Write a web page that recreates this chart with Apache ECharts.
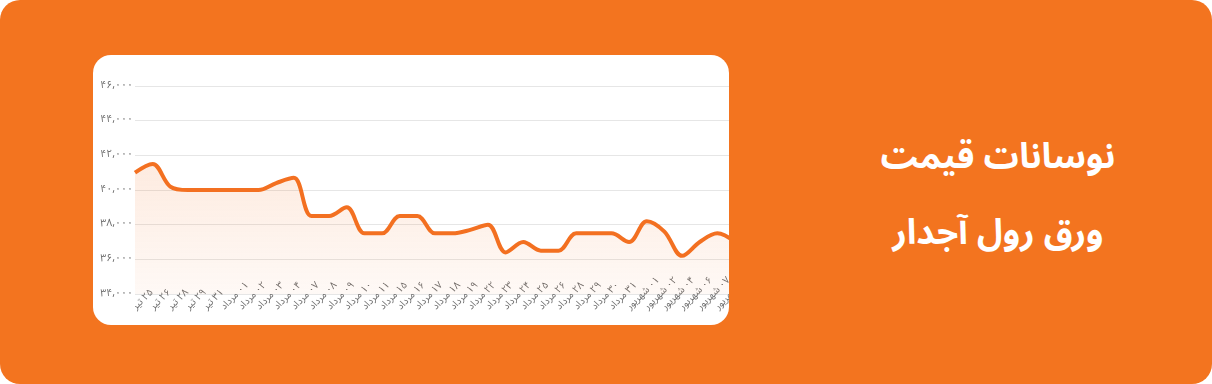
<!DOCTYPE html>
<html>
<head>
<meta charset="utf-8">
<script src="https://cdn.jsdelivr.net/npm/echarts@6/dist/echarts.min.js"></script>
<style>
  html, body { margin: 0; padding: 0; width: 1212px; height: 384px; background: #ffffff; overflow: hidden; }
  #bg { position: absolute; left: 0; top: 0; width: 1212px; height: 384px; background: #F3741F; border-radius: 20px; }
  #card { position: absolute; left: 93px; top: 55px; width: 636px; height: 270px; background: #ffffff; border-radius: 18px; overflow: hidden; }
  #chart { position: absolute; left: 0; top: 0; width: 700px; height: 270px; direction: rtl; }
  .title { position: absolute; left: 850px; width: 296px; text-align: center; direction: rtl; color: #ffffff;
           font-family: "Noto Sans Arabic", "DejaVu Sans", sans-serif; font-weight: bold; font-size: 35px; line-height: 42px; }
  #t1 { top: 136px; }
  #t2 { top: 212px; }
</style>
</head>
<body>
<div id="bg"></div>
<div id="card"><div id="chart"></div></div>
<div class="title" id="t1">نوسانات قیمت</div>
<div class="title" id="t2">ورق رول آجدار</div>
<script>
// Categories (Persian dates)
const categories = ['۲۵ تیر','۲۶ تیر','۲۸ تیر','۲۹ تیر','۳۱ تیر',
  '۰۱ مرداد','۰۲ مرداد','۰۳ مرداد','۰۴ مرداد','۰۷ مرداد','۰۸ مرداد','۰۹ مرداد','۱۰ مرداد','۱۱ مرداد',
  '۱۵ مرداد','۱۶ مرداد','۱۷ مرداد','۱۸ مرداد','۱۹ مرداد','۲۲ مرداد','۲۳ مرداد','۲۴ مرداد','۲۵ مرداد',
  '۲۶ مرداد','۲۸ مرداد','۲۹ مرداد','۳۰ مرداد','۳۱ مرداد',
  '۰۱ شهریور','۰۲ شهریور','۰۴ شهریور','۰۶ شهریور','۰۷ شهریور','۰۸ شهریور','۰۹ شهریور'];

// Price values
const prices = [41000, 41500, 40200, 40000, 40000, 40000, 40000, 40000, 40400, 40700,
  38500, 38500, 39000, 37500, 37500, 38500, 38500, 37500, 37500, 37700,
  38000, 36400, 37000, 36500, 36500, 37500, 37500, 37500, 37000, 38200,
  37600, 36200, 37000, 37500, 37000];

// Y axis ticks and their labels
const yTicks = [34000, 36000, 38000, 40000, 42000, 44000, 46000];
const yTickLabels = ['۳۴,۰۰۰', '۳۶,۰۰۰', '۳۸,۰۰۰', '۴۰,۰۰۰', '۴۲,۰۰۰', '۴۴,۰۰۰', '۴۶,۰۰۰'];

const chart = echarts.init(document.getElementById('chart'), null, { renderer: 'canvas' });
const fontFam = '"Noto Sans Arabic", "DejaVu Sans", sans-serif';
chart.setOption({
  animation: false,
  grid: { left: 42, right: 58, top: 31, bottom: 31, containLabel: false },
  xAxis: {
    type: 'category',
    data: categories,
    boundaryGap: false,
    axisLine: { show: false },
    axisTick: { show: false },
    splitLine: { show: false },
    axisLabel: {
      interval: 0,
      rotate: 45,
      align: 'left',
      verticalAlign: 'middle',
      margin: 15,
      color: '#6e6e6e',
      fontSize: 10,
      fontFamily: fontFam
    }
  },
  yAxis: {
    type: 'value',
    min: yTicks[0],
    max: yTicks[yTicks.length - 1],
    interval: 2000,
    axisLine: { show: false },
    axisTick: { show: false },
    splitLine: { lineStyle: { color: '#e6e6e6', width: 1 } },
    axisLabel: {
      margin: 2,
      color: '#6e6e6e',
      fontSize: 10.5,
      fontFamily: fontFam,
      formatter: function (v) {
        const i = yTicks.indexOf(v);
        return i >= 0 ? yTickLabels[i] : '';
      }
    }
  },
  series: [{
    type: 'line',
    data: prices,
    smooth: 0.35,
    symbol: 'none',
    clip: true,
    lineStyle: { color: '#F37021', width: 4 },
    areaStyle: {
      color: new echarts.graphic.LinearGradient(0, 0, 0, 1, [
        { offset: 0, color: 'rgba(243,112,33,0.20)' },
        { offset: 1, color: 'rgba(243,112,33,0.06)' }
      ])
    }
  }]
});
</script>
</body>
</html>
